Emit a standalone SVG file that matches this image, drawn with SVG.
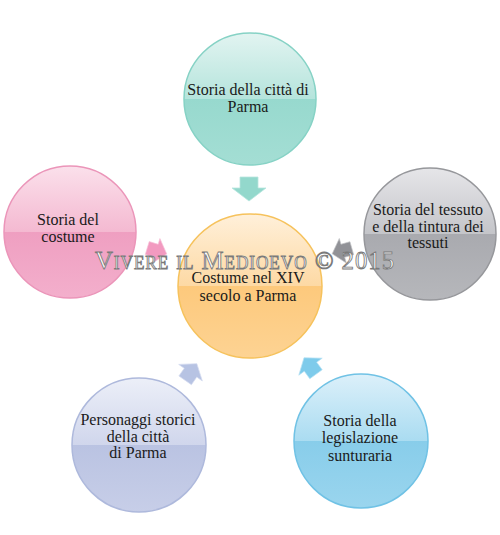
<svg xmlns="http://www.w3.org/2000/svg" width="500" height="535" viewBox="0 0 500 535">
<defs>
<linearGradient id="gTeal" x1="0" y1="0" x2="0" y2="1"><stop offset="0" stop-color="#e2f4f1"/><stop offset="0.5" stop-color="#b5e4dc"/><stop offset="0.5" stop-color="#97d9ce"/><stop offset="1" stop-color="#a4ded4"/></linearGradient>
<linearGradient id="gPink" x1="0" y1="0" x2="0" y2="1"><stop offset="0" stop-color="#fbe0eb"/><stop offset="0.5" stop-color="#f4b9d1"/><stop offset="0.5" stop-color="#ef9fc1"/><stop offset="1" stop-color="#f3afcc"/></linearGradient>
<linearGradient id="gGray" x1="0" y1="0" x2="0" y2="1"><stop offset="0" stop-color="#e6e6e9"/><stop offset="0.5" stop-color="#c4c5c9"/><stop offset="0.5" stop-color="#a9aaaf"/><stop offset="1" stop-color="#b6b7bb"/></linearGradient>
<linearGradient id="gOrange" x1="0" y1="0" x2="0" y2="1"><stop offset="0" stop-color="#fff0da"/><stop offset="0.5" stop-color="#fdd9a4"/><stop offset="0.5" stop-color="#fdc97c"/><stop offset="1" stop-color="#fdd393"/></linearGradient>
<linearGradient id="gLav" x1="0" y1="0" x2="0" y2="1"><stop offset="0" stop-color="#eceff8"/><stop offset="0.5" stop-color="#d0d6ec"/><stop offset="0.5" stop-color="#bac3e2"/><stop offset="1" stop-color="#c7cee8"/></linearGradient>
<linearGradient id="gBlue" x1="0" y1="0" x2="0" y2="1"><stop offset="0" stop-color="#dcf0fa"/><stop offset="0.5" stop-color="#aadcf1"/><stop offset="0.5" stop-color="#88cdea"/><stop offset="1" stop-color="#9ad5ee"/></linearGradient>
<path id="arr" d="M-9,-12 L9,-12 L9,-1 L17,-1 L0,12 L-17,-1 L-9,-1 Z"/>
</defs>
<style>
.lbl{font-family:"Liberation Serif","Times New Roman",serif;font-size:16px;fill:#1a1a1a;text-anchor:middle}
.wm{font-family:"Liberation Serif","Times New Roman",serif;font-size:26px;font-variant:small-caps;fill:#ffffff;stroke:#7a7a7a;stroke-width:0.9;letter-spacing:1px}
.c{stroke-width:1.5}
</style>
<rect width="500" height="535" fill="#ffffff"/>
<g id="connectors">
<use href="#arr" transform="translate(249,189)" fill="#93d8cc" stroke="#b8e6de" stroke-width="0.8"/>
<use href="#arr" transform="translate(157,251) rotate(-73) scale(0.75,0.85)" fill="#f29ac0" stroke="#f7c2d8" stroke-width="0.8"/>
<use href="#arr" transform="translate(342,251) rotate(74) scale(0.75,0.85)" fill="#919297" stroke="#c2c3c6" stroke-width="0.8"/>
<use href="#arr" transform="translate(191,372) rotate(-145) scale(0.85)" fill="#b7c3e3" stroke="#d5dcf0" stroke-width="0.8"/>
<use href="#arr" transform="translate(310,366) rotate(144) scale(0.85)" fill="#7ecbeb" stroke="#b6e2f4" stroke-width="0.8"/>
</g>
<g id="node-top">
<circle class="c" cx="250" cy="99" r="66" fill="url(#gTeal)" stroke="#86d2c5"/>
<text class="lbl" x="248" y="95">Storia della città di</text>
<text class="lbl" x="248" y="112">Parma</text>
</g>
<g id="node-left">
<circle class="c" cx="70" cy="232" r="66" fill="url(#gPink)" stroke="#eb95b9"/>
<text class="lbl" x="68" y="225">Storia del</text>
<text class="lbl" x="68" y="242">costume</text>
</g>
<g id="node-right">
<circle class="c" cx="430" cy="234" r="66" fill="url(#gGray)" stroke="#96979b"/>
<text class="lbl" x="428" y="215">Storia del tessuto</text>
<text class="lbl" x="428" y="232">e della tintura dei</text>
<text class="lbl" x="428" y="248">tessuti</text>
</g>
<g id="node-center">
<circle class="c" cx="250" cy="286" r="72" fill="url(#gOrange)" stroke="#f6c25c"/>
<text class="lbl" x="248" y="283">Costume nel XIV</text>
<text class="lbl" x="248" y="301">secolo  a Parma</text>
</g>
<g id="node-bottom-left">
<circle class="c" cx="139" cy="445" r="67" fill="url(#gLav)" stroke="#aeb9dc"/>
<text class="lbl" x="138" y="425">Personaggi storici</text>
<text class="lbl" x="138" y="442">della città</text>
<text class="lbl" x="138" y="458">di Parma</text>
</g>
<g id="node-bottom-right">
<circle class="c" cx="361" cy="441" r="67" fill="url(#gBlue)" stroke="#70c2e5"/>
<text class="lbl" x="360" y="426">Storia della</text>
<text class="lbl" x="360" y="443">legislazione</text>
<text class="lbl" x="360" y="461">sunturaria</text>
</g>
<text class="wm" x="95" y="269" textLength="300" lengthAdjust="spacingAndGlyphs">Vivere il Medioevo © 2015</text>
</svg>
